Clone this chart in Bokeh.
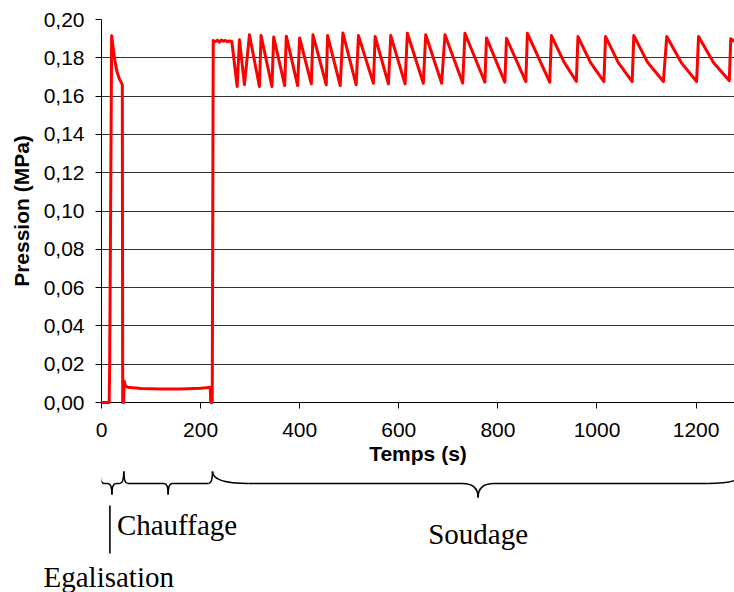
from bokeh.plotting import figure
from bokeh.models import Range1d, FixedTicker, Title
from bokeh.layouts import column
from bokeh.embed import file_html
from bokeh.resources import INLINE
from bokeh.core.properties import value

# ---------------- data ----------------
time_s = [0, 15.5, 16.5, 20.5, 26, 31, 36, 42, 42.8, 44.5, 46, 48, 52, 80, 120, 160, 200,
          219.5, 220.5, 223.5, 225.5, 230, 234, 238, 242, 246, 250, 254, 258, 263,
          273.8, 278.4, 288.5, 298.6, 318.7, 322, 344, 347.5, 369.7, 373, 395.8, 399.9,
          423.4, 426.8, 453.6, 456.3, 481.8, 487.2, 514, 518.6, 548.8, 552.3, 579, 583.8,
          612.6, 617.3, 649.5, 654.3, 686.5, 693.2, 729, 733.5, 773.7, 777, 814, 817.4,
          856.3, 859.6, 904.6, 908, 933, 958.3, 961.6, 987, 1013.9, 1017.3, 1043, 1071,
          1074.3, 1102, 1134, 1140.8, 1170, 1201, 1205, 1235, 1267, 1270, 1290]
pressure_mpa = [0, 0, 0.02, 0.1915, 0.180, 0.173, 0.169, 0.166, 0.0, 0.0, 0.011, 0.0088,
                0.0080, 0.0073, 0.0070, 0.0070, 0.0074, 0.0079, 0.0, 0.0, 0.189, 0.1885,
                0.1892, 0.1882, 0.1893, 0.1886, 0.1891, 0.1884, 0.1888, 0.1885,
                0.165, 0.1894, 0.166, 0.192, 0.165, 0.1916, 0.165, 0.1908, 0.1655, 0.1913,
                0.1655, 0.1904, 0.1664, 0.192, 0.1659, 0.1916, 0.1655, 0.193, 0.1659,
                0.1916, 0.1667, 0.1911, 0.1664, 0.1916, 0.1664, 0.1928, 0.1667, 0.192,
                0.1667, 0.192, 0.1668, 0.1928, 0.1673, 0.1904, 0.1673, 0.1902, 0.1676,
                0.1928, 0.1673, 0.1916, 0.1780, 0.1676, 0.1911, 0.1775, 0.1676, 0.1911,
                0.1775, 0.1676, 0.1916, 0.1777, 0.1676, 0.1911, 0.1775, 0.1676, 0.1911,
                0.1775, 0.168, 0.190, 0.186]

x_ticks = [0, 200, 400, 600, 800, 1000, 1200]
y_ticks = [0.00, 0.02, 0.04, 0.06, 0.08, 0.10, 0.12, 0.14, 0.16, 0.18, 0.20]
y_tick_labels = ["0,00", "0,02", "0,04", "0,06", "0,08", "0,10", "0,12", "0,14",
                 "0,16", "0,18", "0,20"]

phase_names = ["Egalisation", "Chauffage", "Soudage"]
phase_start_s = [-3, 45, 224]
phase_end_s = [45, 224, 1296]

# ---------------- layout constants ----------------
X_MAX = 1277.5
W = 734
LEFT = 101
TOP = 19
FRAME_H = 383
BOTTOM = 68
H1 = TOP + FRAME_H + BOTTOM
FH2 = 88
S = (W - LEFT) / X_MAX  # px per second

SANS = "Liberation Sans"
SERIF = "Liberation Serif"

xr = Range1d(0, X_MAX)

p = figure(width=W, height=H1, x_range=xr, y_range=Range1d(0, 0.2),
           output_backend="svg", toolbar_location=None,
           min_border_left=LEFT, min_border_right=0, min_border_top=TOP,
           min_border_bottom=BOTTOM)
p.outline_line_color = None
p.background_fill_color = "white"
p.border_fill_color = "white"

p.line(time_s, pressure_mpa, line_color="#ff0000", line_width=3, line_join="round",
       level="overlay")

p.xgrid.visible = False
p.ygrid.grid_line_color = "#333333"
p.ygrid.grid_line_width = 1
p.xaxis.ticker = FixedTicker(ticks=x_ticks)
p.yaxis.ticker = FixedTicker(ticks=y_ticks)
p.yaxis.major_label_overrides = {t: l for t, l in zip(y_ticks, y_tick_labels)}

for ax in (p.xaxis[0], p.yaxis[0]):
    ax.axis_line_color = "black"
    ax.axis_line_width = 1
    ax.major_tick_line_color = "black"
    ax.minor_tick_line_color = None
    ax.major_tick_out = 6
    ax.major_tick_in = 0
    ax.major_label_text_font = SANS
    ax.major_label_text_font_size = "21px"
    ax.major_label_text_color = "black"
    ax.axis_label_text_font = SANS
    ax.axis_label_text_font_size = "21px"
    ax.axis_label_text_font_style = "bold"
    ax.axis_label_text_color = "black"

p.yaxis.major_label_standoff = 11
p.xaxis.major_label_standoff = 14
p.xaxis.axis_label = "Temps (s)"
p.yaxis.axis_label = "Pression (MPa)"
p.xaxis.axis_label_standoff = 2
p.yaxis.axis_label_standoff = 8

# ---------------- phase braces ----------------
q = figure(width=W, frame_height=FH2, x_range=xr, y_range=Range1d(FH2, 0),
           output_backend="svg", toolbar_location=None, min_border=0,
           min_border_left=LEFT, min_border_right=0, min_border_bottom=0,
           x_axis_location=None, y_axis_location=None)
q.outline_line_color = None
q.xgrid.visible = False
q.ygrid.visible = False
q.background_fill_color = "white"
q.border_fill_color = "white"

brace_outer_px = [4, 4, 36]
brace_inner_px = [4, 4, 16]
brace_tip_y = [24, 24, 27]
TOPY, MIDY = 1, 13
LW = 1.6

for i in range(len(phase_names)):
    x0, x1 = phase_start_s[i], phase_end_s[i]
    xm = (x0 + x1) / 2
    ro = brace_outer_px[i] / S
    ri = brace_inner_px[i] / S
    ty = brace_tip_y[i]
    q.quadratic(x0=[x0, x1], y0=[TOPY, TOPY], x1=[x0 + ro, x1 - ro], y1=[MIDY, MIDY],
                cx=[x0, x1], cy=[MIDY, MIDY], line_color="black", line_width=LW)
    q.quadratic(x0=[xm - ri, xm + ri], y0=[MIDY, MIDY], x1=[xm, xm], y1=[ty, ty],
                cx=[xm, xm], cy=[MIDY, MIDY], line_color="black", line_width=LW)
    q.segment(x0=[x0 + ro, xm + ri], y0=[MIDY, MIDY], x1=[xm - ri, x1 - ro], y1=[MIDY, MIDY],
              line_color="black", line_width=LW)

tip1 = (phase_start_s[0] + phase_end_s[0]) / 2
tip3 = (phase_start_s[2] + phase_end_s[2]) / 2
q.segment(x0=[tip1 - 2 / S], y0=[35], x1=[tip1 - 2 / S], y1=[83], line_color="black",
          line_width=LW)

FS = "29px"
q.text(x=[tip1 + 5 / S], y=[54], text=[phase_names[1]], text_font=value(SERIF),
       text_font_size=FS, text_align="left", text_baseline="alphabetic",
       text_color="black")
q.text(x=[tip3], y=[63], text=[phase_names[2]], text_font=value(SERIF),
       text_font_size=FS, text_align="center", text_baseline="alphabetic",
       text_color="black")
q.add_layout(Title(text=phase_names[0], align="left", offset=43 - LEFT, standoff=0,
                   text_font=SERIF, text_font_size=FS, text_font_style="normal",
                   text_color="black"), "below")

layout = column(p, q, spacing=0)
open("out.html", "w").write(file_html(layout, INLINE))
